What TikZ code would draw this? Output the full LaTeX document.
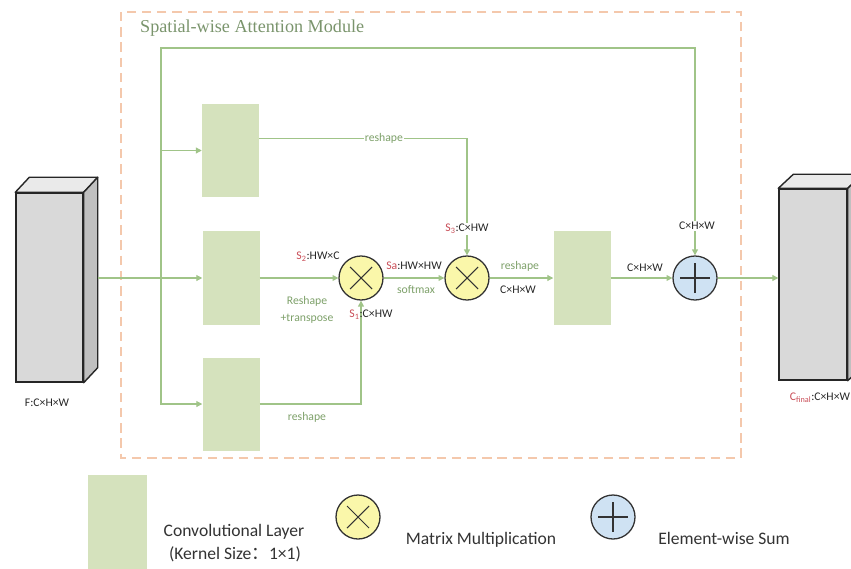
\documentclass[tikz,border=0pt]{standalone}
\usepackage{fontspec}
\setmainfont{Carlito}
\newfontfamily\titlefont{Liberation Serif}
\newfontfamily\cjk{Noto Sans CJK SC}
\usepackage{tikz}
\usetikzlibrary{arrows.meta}
\usetikzlibrary{calc}
\definecolor{convgreen}{RGB}{213,226,189}
\definecolor{linegreen}{RGB}{160,196,136}
\definecolor{txtgreen}{RGB}{125,160,105}
\definecolor{titlegreen}{RGB}{122,148,108}
\definecolor{dashorange}{RGB}{244,200,172}
\definecolor{mulyellow}{RGB}{250,247,170}
\definecolor{addblue}{RGB}{207,226,243}
\definecolor{labred}{RGB}{200,75,85}
\definecolor{cubefront}{RGB}{217,217,217}
\definecolor{cubetop}{RGB}{234,234,234}
\definecolor{cubeside}{RGB}{192,192,192}

\begin{document}
\begin{tikzpicture}[x=0.03cm,y=-0.03cm,
    conv/.style={rectangle,fill=convgreen,minimum width=1.71cm,minimum height=2.79cm,inner sep=0pt},
    op/.style={circle,draw=black!80,line width=1.1pt,minimum size=1.32cm,inner sep=0pt},
    mul/.style={op,fill=mulyellow,path picture={
        \draw[line width=0.9pt] ([shift={(-.33cm,-.33cm)}]path picture bounding box.center) -- ([shift={(.33cm,.33cm)}]path picture bounding box.center)
          ([shift={(-.33cm,.33cm)}]path picture bounding box.center) -- ([shift={(.33cm,-.33cm)}]path picture bounding box.center);}},
    add/.style={op,fill=addblue,path picture={
        \draw[line width=0.9pt] ([xshift=-.45cm]path picture bounding box.center) -- ([xshift=.45cm]path picture bounding box.center)
          ([yshift=-.45cm]path picture bounding box.center) -- ([yshift=.45cm]path picture bounding box.center);}},
    front/.style={rectangle,draw=black!85,line width=1.2pt,fill=cubefront,inner sep=0pt},
    face/.style={draw=black!85,line width=1.2pt,line join=round},
    wire/.style={draw=linegreen,line width=0.9pt},
    flow/.style={wire,-{Triangle[length=5pt,width=5pt]}},
    lbl/.style={font=\fontsize{10}{12}\selectfont,text=black!85,inner sep=1pt},
    glbl/.style={lbl,text=txtgreen},
    legtxt/.style={font=\fontsize{15}{18}\selectfont,text=black!80,inner sep=0pt}]
  \useasboundingbox (0,0) rectangle (851,569);

  % module frame
  \draw[dashorange,line width=1pt,dash pattern=on 8pt off 5pt] (121,12) rectangle (741,458);
  \node[anchor=west,inner sep=0pt,text=titlegreen,font=\titlefont\fontsize{15.5}{18}\selectfont] (title) at (140,28) {Spatial-wise Attention Module};

  % input and output feature maps
  \node[front,minimum width=2.01cm,minimum height=5.67cm] (inF) at (49.5,287.5) {};
  \filldraw[face,fill=cubetop] (inF.north west) -- ++(14,-15) -- ($(inF.north east)+(14,-15)$) -- (inF.north east) -- cycle;
  \filldraw[face,fill=cubeside] (inF.north east) -- ++(14,-15) -- ($(inF.south east)+(14,-15)$) -- (inF.south east) -- cycle;
  \node[lbl] (inLbl) at (47,403) {F:C×H×W};

  \node[front,minimum width=2.04cm,minimum height=5.73cm] (outF) at (813,284.5) {};
  \filldraw[face,fill=cubetop] (outF.north west) -- ++(15,-14) -- ($(outF.north east)+(15,-14)$) -- (outF.north east) -- cycle;
  \filldraw[face,fill=cubeside] (outF.north east) -- ++(15,-14) -- ($(outF.south east)+(15,-14)$) -- (outF.south east) -- cycle;
  \node[lbl] (outLbl) at (820,398) {\textcolor{labred}{C\textsubscript{final}}:C×H×W};

  % 1x1 convolutions
  \node[conv] (convA) at (230.5,150.5) {};
  \node[conv] (convB) at (231,278) {};
  \node[conv] (convC) at (231,404) {};
  \node[conv] (convD) at (582,278) {};

  % operators
  \node[mul] (mulA) at (361,278) {};
  \node[mul] (mulB) at (467,278) {};
  \node[add] (sumA) at (695,278) {};

  % connections
  \path (inF.east) ++(14,-9.5) coordinate (inTap);
  \coordinate (split) at (161,278);
  \coordinate (loop) at (161,48);
  \draw[flow] (inTap) -- (convB.west);
  \draw[flow] (split) |- (convA.west);
  \draw[flow] (split) |- (convC.west);
  \draw[flow] (split) -- (loop) -| (sumA.north);
  \draw[flow] ([yshift=.35cm]convA.east) -| (mulB.north)
    node[glbl,pos=0.3,fill=white] (rsA) {reshape};
  \draw[flow] (convB) -- (mulA);
  \draw[flow] (convC.east) -| (mulA.south);
  \draw[flow] (mulA) -- (mulB);
  \draw[flow] (mulB) -- (convD);
  \draw[flow] (convD) -- (sumA);
  \draw[flow] (sumA) -- (sumA -| outF.west);

  % labels
  \node[lbl] (s2) at (318,257) {\textcolor{labred}{S\textsubscript{2}}:HW×C};
  \node[glbl,align=center,font=\fontsize{10}{14}\selectfont] (rsB) at (307,310) {Reshape\\+transpose};
  \node[lbl] (s1) at (371,315) {\textcolor{labred}{S\textsubscript{1}}:C×HW};
  \node[glbl] (rsC) at (307,417) {reshape};
  \node[lbl] (sa) at (414,266) {\textcolor{labred}{Sa}:HW×HW};
  \node[glbl] (smax) at (416,290) {softmax};
  \node[lbl,fill=white] (s3) at (467,229) {\textcolor{labred}{S\textsubscript{3}}:C×HW};
  \node[glbl] (rsD) at (520,266) {reshape};
  \node[lbl] (dimA) at (518,290) {C×H×W};
  \node[lbl] (dimB) at (645,268) {C×H×W};
  \node[lbl,fill=white] (dimC) at (697,226) {C×H×W};

  % legend
  \node[conv,minimum width=1.77cm,minimum height=2.85cm] (legConv) at (117.5,522.5) {};
  \node[legtxt] (legConvA) at (234,532) {Convolutional Layer};
  \node[legtxt] (legConvB) at (235,554) {(Kernel Size{\cjk ：}1×1)};
  \node[mul] (legMul) at (358,517) {};
  \node[legtxt] (legMulTxt) at (481,540) {Matrix Multiplication};
  \node[add] (legAdd) at (613,517) {};
  \node[legtxt] (legAddTxt) at (724,538) {Element-wise Sum};
\end{tikzpicture}
\end{document}
